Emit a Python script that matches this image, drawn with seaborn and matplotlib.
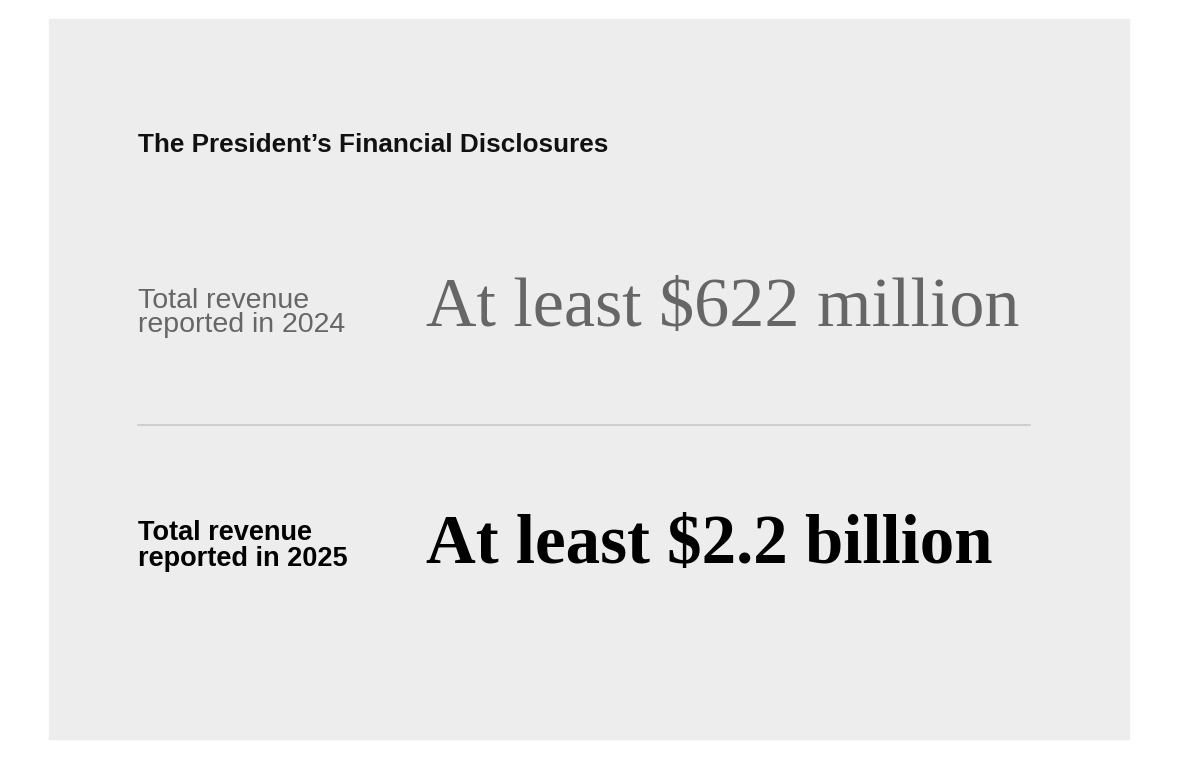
import seaborn as sns
import matplotlib.pyplot as plt

sns.set_style("white")

title = "The President\u2019s Financial Disclosures"
row_labels = ["Total revenue\nreported in 2024", "Total revenue\nreported in 2025"]
row_values = ["At least $622 million", "At least $2.2 billion"]
row_colors = ["#666666", "#000000"]
row_weights = ["normal", "bold"]

fig = plt.figure(figsize=(11.8, 7.6), dpi=100)
ax = fig.add_axes([0, 0, 1, 1])
ax.set_xlim(0, 1180)
ax.set_ylim(760, 0)
ax.axis("off")

# grey panel
ax.add_patch(plt.Rectangle((49, 19), 1080, 720, color="#ededed", zorder=0))

ax.text(138, 145.5, title, fontsize=18.8, fontweight="bold", family="Liberation Sans",
        va="center", ha="left", color="#111111")

label_y = [313, 546]
value_y = [309, 546]
for ly, vy, lab, val, col, w in zip(label_y, value_y, row_labels, row_values, row_colors, row_weights):
    ax.text(138, ly, lab, fontsize=20.5 if w == "normal" else 19.5, fontweight=w,
            family="Liberation Sans", color=col, va="center", ha="left", linespacing=0.95)
    ax.text(426, vy, val, fontsize=50.5 if w == "normal" else 49.6, fontweight=w,
            family="Liberation Serif", color=col, va="center", ha="left")

# divider
sns.lineplot(x=[138, 1030], y=[425, 425], ax=ax, color="#cfcfcf", linewidth=1.5)

fig.savefig("out.png", dpi=100)
